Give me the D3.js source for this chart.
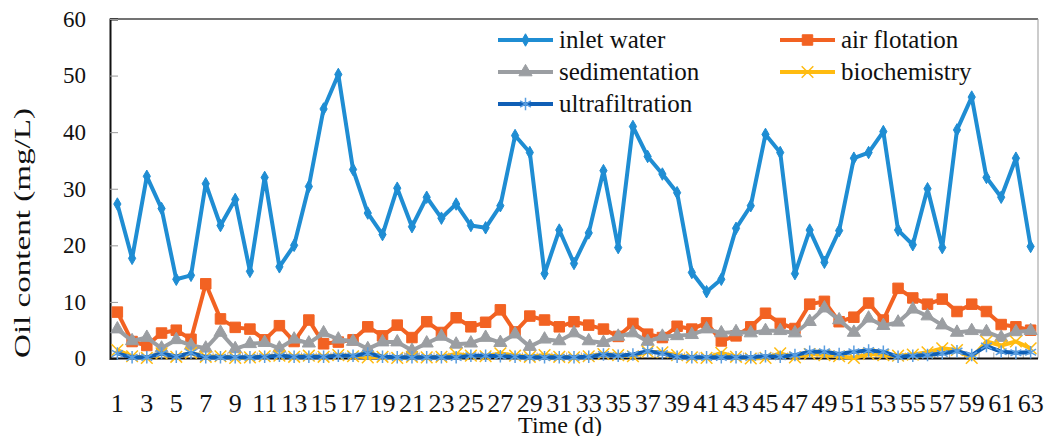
<!DOCTYPE html>
<html>
<head>
<meta charset="utf-8">
<script src="https://cdn.jsdelivr.net/npm/d3@7"></script>
<style>
  body { margin: 0; background: #fff; }
  svg text { font-family: "Liberation Serif", "Times New Roman", serif; fill: #111; }
</style>
</head>
<body>
<script>
// oil content per day (mg/L)
var days = d3.range(1, 64);

var inletWater = [27.3, 17.7, 32.2, 26.5, 14.0, 14.7, 30.9, 23.5, 28.1, 15.4,
    32.0, 16.2, 20.0, 30.4, 44.1, 50.2, 33.4, 25.7, 21.9, 30.1,
    23.3, 28.5, 24.8, 27.3, 23.5, 23.1, 27.0, 39.4, 36.4, 15.0,
    22.7, 16.8, 22.2, 33.2, 19.6, 41.0, 35.7, 32.6, 29.3, 15.2,
    11.8, 14.0, 23.0, 27.0, 39.6, 36.4, 15.0, 22.7, 17.0, 22.6,
    35.4, 36.4, 40.1, 22.7, 20.1, 30.0, 19.6, 40.4, 46.2, 32.0,
    28.5, 35.4, 19.8];

var airFlotation = [8.2, 3.0, 2.3, 4.5, 5.0, 3.4, 13.2, 7.0, 5.5, 5.2,
    3.3, 5.8, 3.0, 6.8, 2.6, 2.9, 3.3, 5.6, 4.0, 5.9,
    3.7, 6.5, 4.6, 7.2, 5.6, 6.4, 8.6, 4.7, 7.5, 6.8,
    5.6, 6.5, 5.9, 5.2, 3.9, 6.2, 4.3, 3.7, 5.7, 5.2,
    6.3, 3.1, 4.0, 5.6, 8.0, 6.2, 5.3, 9.6, 10.1, 6.5,
    7.3, 9.8, 6.8, 12.4, 10.7, 9.6, 10.5, 8.3, 9.6, 8.3,
    6.0, 5.6, 5.0];

var sedimentation = [5.2, 3.1, 3.7, 1.8, 3.3, 2.3, 1.8, 4.6, 1.7, 2.6,
    2.8, 1.8, 3.4, 2.7, 4.5, 3.4, 3.0, 1.7, 2.9, 2.9,
    1.4, 2.7, 3.9, 2.5, 2.7, 3.7, 2.8, 4.3, 2.1, 3.4,
    3.1, 4.5, 3.1, 2.8, 3.9, 4.5, 3.0, 3.9, 4.0, 4.2,
    5.2, 4.5, 4.7, 4.5, 4.9, 4.9, 4.5, 6.5, 8.9, 6.8,
    4.6, 7.1, 5.8, 6.4, 8.7, 7.5, 5.9, 4.6, 4.9, 4.7,
    3.7, 4.7, 4.9];

var biochemistry = [1.5, 0.4, 0.1, 0.9, 0.3, 1.0, 0.3, 0.4, 0.1, 0.2,
    0.4, 0.5, 0.3, 0.5, 0.3, 0.6, 0.4, 0.2, 0.3, 0.1,
    0.3, 0.2, 0.3, 0.8, 0.5, 0.4, 0.9, 0.5, 0.3, 0.6,
    0.3, 0.2, 0.4, 0.8, 0.6, 0.4, 1.2, 1.1, 0.6, 0.2,
    0.1, 1.0, 0.3, 0.0, 0.1, 0.9, 0.2, 0.8, 0.6, 0.4,
    0.1, 0.8, 0.6, 0.5, 0.7, 1.1, 1.8, 1.5, 0.1, 3.0,
    2.3, 3.0, 1.8];

var ultrafiltration = [0.9, 0.2, 0.2, 0.9, 0.3, 1.0, 0.2, 0.2, 0.2, 0.2,
    0.3, 0.5, 0.3, 0.3, 0.3, 0.5, 0.5, 0.9, 0.3, 0.2,
    0.2, 0.2, 0.2, 0.2, 0.5, 0.5, 0.4, 0.3, 0.2, 0.2,
    0.2, 0.2, 0.3, 0.7, 0.5, 0.7, 1.3, 0.9, 0.3, 0.2,
    0.2, 0.2, 0.2, 0.2, 0.4, 0.3, 0.6, 1.2, 1.2, 0.8,
    1.2, 1.4, 1.2, 0.3, 0.5, 0.6, 0.9, 1.3, 0.6, 2.2,
    1.2, 1.0, 1.1];

var yTicks = [0, 10, 20, 30, 40, 50, 60];
var xTicks = days.filter(function(d) { return d % 2 === 1; });

var series = [
    { name: "inlet water", values: inletWater, color: "#1f8dd3", symbol: d3.symbolDiamond, size: 45, fill: true, mcolor: "#1f8dd3" },
    { name: "air flotation", values: airFlotation, color: "#f26222", symbol: d3.symbolSquare, size: 110, fill: true, mcolor: "#f26222" },
    { name: "sedimentation", values: sedimentation, color: "#9b9ea2", symbol: d3.symbolTriangle, size: 75, fill: true, mcolor: "#9b9ea2" },
    { name: "biochemistry", values: biochemistry, color: "#ffbb10", symbol: d3.symbolX, size: 90, fill: false, mcolor: "#ffbb10" },
    { name: "ultrafiltration", values: ultrafiltration, color: "#0f5fb6", symbol: d3.symbolAsterisk, size: 110, fill: false, mcolor: "#5a9ee0" }
];

var serif = "'Liberation Serif', 'Times New Roman', serif";
var w = 1045, h = 436;
var plotLeft = 110, plotRight = 1038, plotTop = 19, plotBottom = 358.5;

var svg = d3.select("body").append("svg")
    .attr("width", w)
    .attr("height", h);

svg.append("rect").attr("width", w).attr("height", h).attr("fill", "#fff");

var x = d3.scaleBand().domain(days).range([plotLeft, plotRight]);
var y = d3.scaleLinear().domain([0, 60]).range([plotBottom, plotTop]);
var cx = function(d) { return x(d) + x.bandwidth() / 2; };

// frame
svg.append("line").attr("x1", plotLeft).attr("x2", plotRight).attr("y1", plotTop).attr("y2", plotTop)
    .attr("stroke", "#444").attr("stroke-width", 1.5);
svg.append("line").attr("x1", plotRight).attr("x2", plotRight).attr("y1", plotTop).attr("y2", plotBottom)
    .attr("stroke", "#999").attr("stroke-width", 1);

// y axis
var yAxis = svg.append("g")
    .attr("transform", "translate(" + plotLeft + ",0)")
    .call(d3.axisLeft(y).tickValues(yTicks).tickSize(-8).tickPadding(24));
yAxis.attr("font-family", serif).attr("font-size", 23);
yAxis.select(".domain").attr("stroke", "#111").attr("stroke-width", 2);
yAxis.selectAll(".tick line").attr("stroke", "#999");
yAxis.selectAll("text").attr("fill", "#111");

// x axis
var xAxis = svg.append("g")
    .attr("transform", "translate(0," + plotBottom + ")")
    .call(d3.axisBottom(x).tickValues(xTicks).tickSize(0).tickPadding(35));
xAxis.attr("font-family", serif).attr("font-size", 26);
xAxis.select(".domain").remove();
xAxis.selectAll("text").attr("fill", "#111");

svg.append("g").selectAll("line")
    .data(days.slice(1))
    .enter()
    .append("line")
    .attr("x1", function(d) { return x(d); })
    .attr("x2", function(d) { return x(d); })
    .attr("y1", plotBottom)
    .attr("y2", plotBottom - 6)
    .attr("stroke", "#aaa");

svg.append("line").attr("x1", plotLeft).attr("x2", plotRight).attr("y1", plotBottom).attr("y2", plotBottom)
    .attr("stroke", "#111").attr("stroke-width", 2);

// axis titles
svg.append("text")
    .attr("x", 560).attr("y", 433)
    .attr("text-anchor", "middle")
    .attr("font-family", serif)
    .attr("font-size", 24)
    .text("Time (d)");

svg.append("text")
    .attr("transform", "translate(30,233) rotate(-90)")
    .attr("text-anchor", "middle")
    .attr("textLength", 250)
    .attr("lengthAdjust", "spacingAndGlyphs")
    .attr("font-family", serif)
    .attr("font-size", 24)
    .text("Oil content (mg/L)");

// series
var line = d3.line()
    .x(function(d, i) { return cx(days[i]); })
    .y(function(d) { return y(d); });

function marker(sel, s) {
    sel.attr("d", d3.symbol().type(s.symbol).size(s.size))
        .attr("fill", s.fill ? s.mcolor : "none")
        .attr("stroke", s.mcolor)
        .attr("stroke-width", s.fill ? 1 : 1.5);
}

series.forEach(function(s) {
    var g = svg.append("g");
    g.append("path")
        .datum(s.values)
        .attr("d", line)
        .attr("fill", "none")
        .attr("stroke", s.color)
        .attr("stroke-width", 4)
        .attr("stroke-linejoin", "round");
    g.selectAll("path.pt")
        .data(s.values)
        .enter()
        .append("path")
        .attr("class", "pt")
        .attr("transform", function(d, i) { return "translate(" + cx(days[i]) + "," + y(d) + ")"; })
        .call(marker, s);
});

// legend
var legendPos = [[498, 40], [780, 40], [498, 72], [780, 72], [498, 104]];
series.forEach(function(s, i) {
    var p = legendPos[i];
    var g = svg.append("g").attr("transform", "translate(" + p[0] + "," + p[1] + ")");
    g.append("line").attr("x1", 0).attr("x2", 55)
        .attr("stroke", s.color).attr("stroke-width", 4);
    g.append("path").attr("transform", "translate(27.5,0)").call(marker, s);
    g.append("text").attr("x", 61).attr("dy", "0.32em")
        .attr("font-family", serif)
        .attr("font-size", 25)
        .text(s.name);
});
</script>
</body>
</html>
